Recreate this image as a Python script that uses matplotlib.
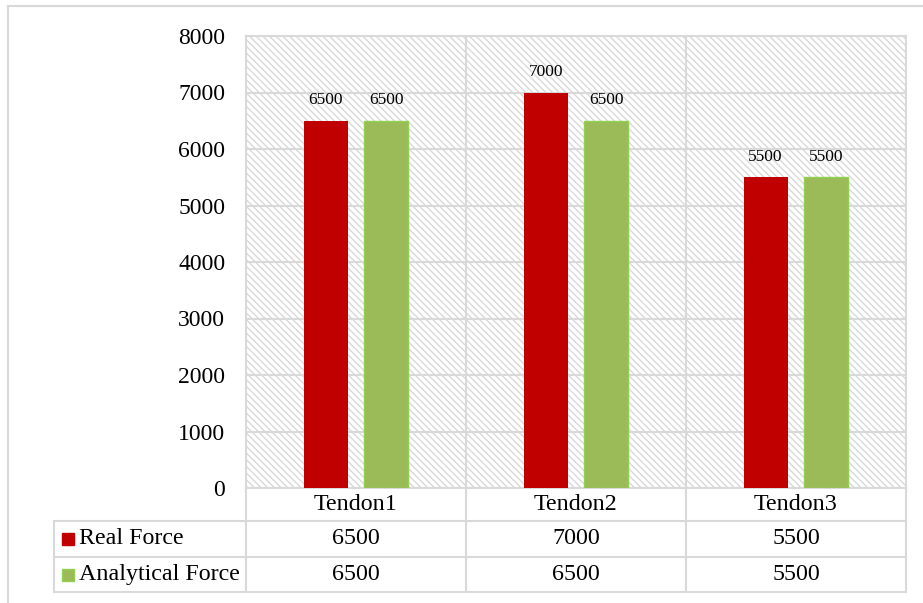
import matplotlib.pyplot as plt
import numpy as np
from matplotlib.patches import Rectangle

plt.rcParams['font.family'] = ['Liberation Serif', 'DejaVu Serif']
plt.rcParams['hatch.linewidth'] = 1.0
plt.rcParams['hatch.color'] = '#d9d9d9'

categories = ['Tendon1', 'Tendon2', 'Tendon3']
real_force = [6500, 7000, 5500]
analytical_force = [6500, 6500, 5500]
series_names = ['Real Force', 'Analytical Force']
yticks = [0, 1000, 2000, 3000, 4000, 5000, 6000, 7000, 8000]

W, H = 923, 603
grid_c = '#d9d9d9'
red = '#c00000'
green = '#9bbb59'

fig = plt.figure(figsize=(W / 100, H / 100), dpi=100)

# outer chart frame
fig.add_artist(plt.Line2D([8 / W, 8 / W], [0, 1 - 6 / H], color=grid_c, lw=1.5,
                          transform=fig.transFigure))
fig.add_artist(plt.Line2D([8 / W, 1], [1 - 6 / H, 1 - 6 / H], color=grid_c, lw=1.5,
                          transform=fig.transFigure))

left, right, top, bottom = 246, 906, 36, 488
ax = fig.add_axes([left / W, 1 - bottom / H, (right - left) / W, (bottom - top) / H])
ax.set_xlim(-0.5, 2.5)
ax.set_ylim(0, 8000)

# hatched plot background
ax.add_patch(Rectangle((0, 0), 1, 1, transform=ax.transAxes, facecolor='white',
                       edgecolor=grid_c, hatch='\\\\\\\\\\', lw=0, zorder=0))

for y in yticks:
    ax.axhline(y, color=grid_c, lw=1.5, zorder=1)

x = np.arange(len(categories))
bw = 0.2
b1 = ax.bar(x - 0.138, real_force, bw, color=red, zorder=3)
b2 = ax.bar(x + 0.138, analytical_force, bw, color=green, edgecolor='#92d050',
            lw=1, zorder=3)
for bars, vals in [(b1, real_force), (b2, analytical_force)]:
    for b, v in zip(bars, vals):
        ax.annotate(str(v), (b.get_x() + b.get_width() / 2, v), xytext=(0, 9),
                    textcoords='offset points', ha='center', va='bottom',
                    fontsize=12.5, zorder=4)

ax.set_yticks(yticks)
ax.set_yticklabels([str(t) for t in yticks], fontsize=17)
ax.tick_params(axis='y', length=0, pad=15)
ax.set_xticks([])
for s in ax.spines.values():
    s.set_color(grid_c)
    s.set_linewidth(1.5)
ax.spines['bottom'].set_visible(False)

# data table below the plot
ph = bottom - top
rows = [0, -33 / ph, -69 / ph, -104 / ph]
tr = ax.get_xaxis_transform()
key_x = -0.5 - 192 / 220
for yr in rows:
    x0 = -0.5 if yr == rows[0] else key_x
    ax.plot([x0, 2.5], [yr, yr], transform=tr, color=grid_c, lw=1.5,
            clip_on=False, zorder=2)
for xb in [-0.5, 0.5, 1.5, 2.5]:
    ax.plot([xb, xb], [rows[-1], 0 if xb in (-0.5, 2.5) else 1], transform=tr,
            color=grid_c, lw=1.5, clip_on=False, zorder=2)
ax.plot([key_x, key_x], [rows[1], rows[-1]], transform=tr, color=grid_c, lw=1.5,
        clip_on=False)

for i, c in enumerate(categories):
    ax.text(i, (rows[0] + rows[1]) / 2, c, transform=tr, ha='center', va='center',
            fontsize=17.3)
table_rows = [real_force, analytical_force]
colors = [red, green]
for r, (name, vals, col) in enumerate(zip(series_names, table_rows, colors)):
    yc = (rows[r + 1] + rows[r + 2]) / 2
    for i, v in enumerate(vals):
        ax.text(i, yc, str(v), transform=tr, ha='center', va='center', fontsize=17.3)
    ax.text(key_x + 25 / 220, yc, name, transform=tr, ha='left', va='center',
            fontsize=17.3)
    ax.plot([key_x + 13.5 / 220], [yc], transform=tr, marker='s', ms=8.5,
            color=col, mec=col if r == 0 else '#92d050', clip_on=False)

fig.savefig('out.png', dpi=100)
